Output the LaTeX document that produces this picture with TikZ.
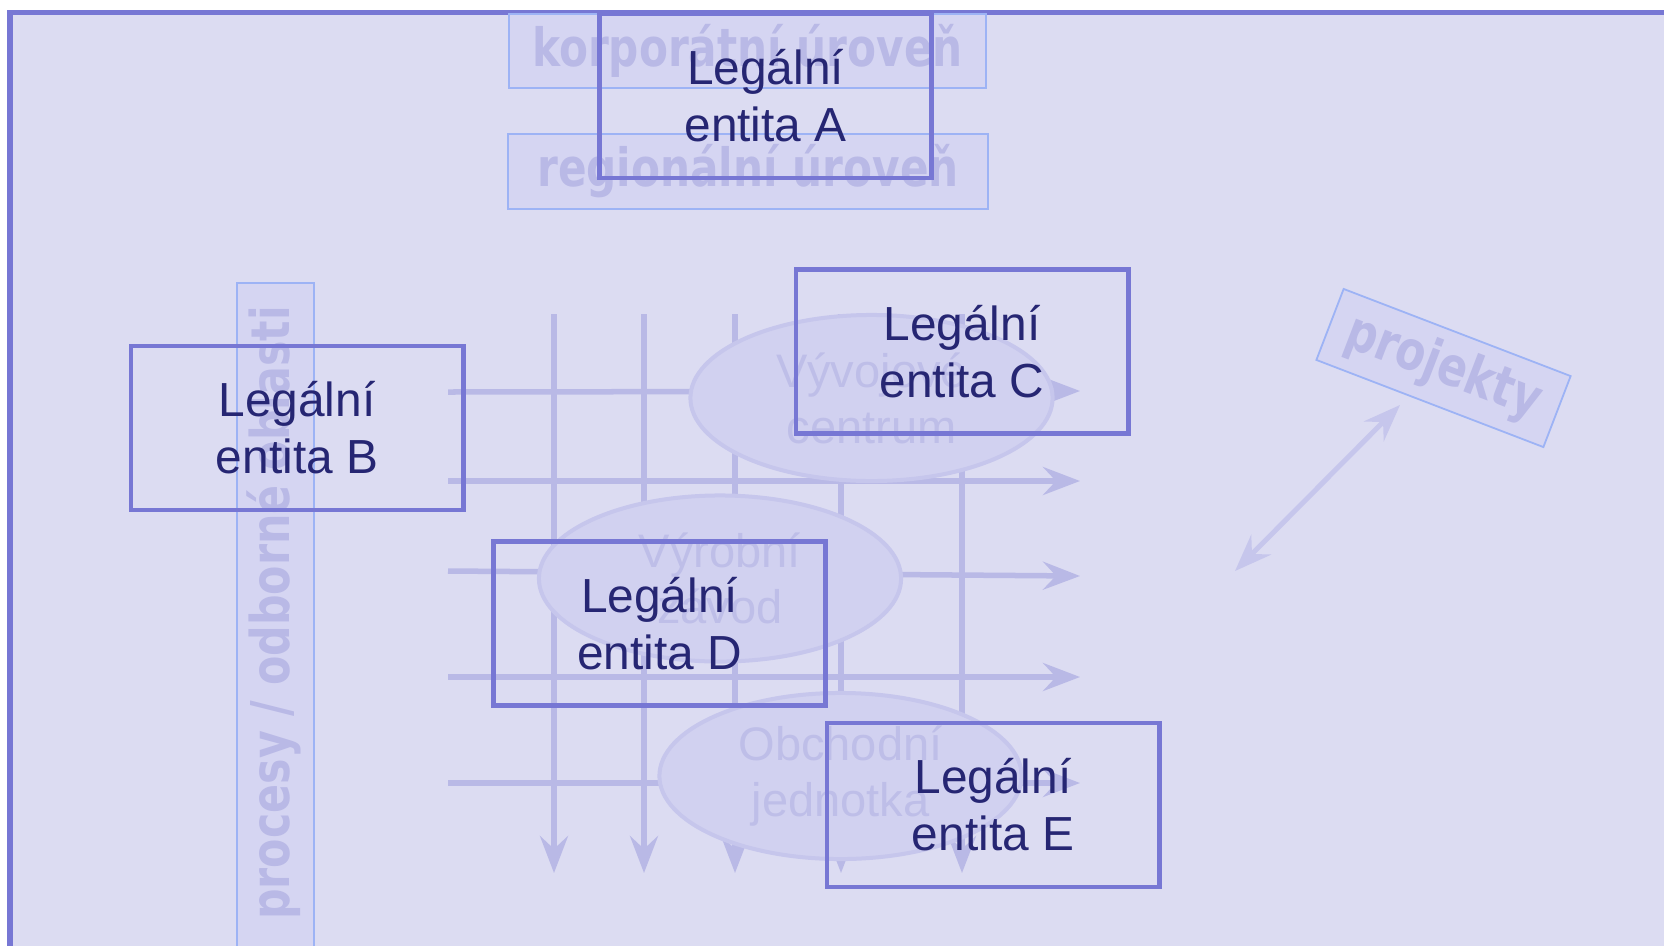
\documentclass[tikz,border=0pt]{standalone}
\usepackage{fontspec}
\setmainfont{Liberation Sans}
\newfontfamily\wmfont[FakeStretch=0.8]{DejaVu Sans}
\usetikzlibrary{arrows.meta,shapes.geometric}

\definecolor{pagebg}{RGB}{220,220,242}
\definecolor{framec}{RGB}{119,119,212}
\definecolor{navy}{RGB}{38,38,115}
\definecolor{wmfill}{RGB}{213,213,242}
\definecolor{wmline}{RGB}{157,179,245}
\definecolor{wmtext}{RGB}{185,185,230}
\definecolor{gridc}{RGB}{185,185,230}
\definecolor{ellfill}{RGB}{209,209,240}
\definecolor{elledge}{RGB}{198,198,236}
\definecolor{elltext}{RGB}{190,190,232}
\definecolor{linkc}{RGB}{198,198,236}

\tikzset{flowtip/.tip={Stealth[length=3.7mm,width=2.8mm,inset=1.3mm]}}

\begin{document}
\begin{tikzpicture}[x=0.01cm,y=-0.01cm,
  entity/.style={draw=framec,line width=0.48mm,minimum width=3.32cm,minimum height=1.64cm,
    inner sep=0pt,align=center,text=navy,font=\fontsize{13.6}{16.22}\selectfont},
  wmbox/.style={draw=wmline,fill=wmfill,line width=0.18mm,inner sep=0pt,text=wmtext,
    font=\wmfont\bfseries\fontsize{15}{18}\selectfont},
  wmlabel/.style={inner sep=0pt,text=wmtext,font=\wmfont\bfseries\fontsize{15.2}{18}\selectfont},
  unit/.style={ellipse,draw=elledge,fill=ellfill,line width=0.4mm,minimum width=3.62cm,
    minimum height=1.66cm,inner sep=0pt,align=center,text=elltext,
    font=\fontsize{13.37}{15.93}\selectfont},
  flow/.style={draw=gridc,line width=0.55mm,-flowtip},
  link/.style={draw=linkc,line width=0.5mm,flowtip-flowtip}
]
\useasboundingbox (0,0) rectangle (1664,945);
\clip (0,0) rectangle (1664,945);

% page and frame
\fill[white] (0,0) rectangle (1664,945);
\fill[pagebg] (10,12) rectangle (1700,1000);
\draw[framec,line width=0.5mm] (10,1000) -- (10,12) -- (1700,12);

% level / area labels
\node[wmbox,minimum width=4.77cm,minimum height=0.74cm] (corp) at (747.5,51) {korporátní úroveň};
\node[wmbox,minimum width=4.80cm,minimum height=0.75cm] (reg) at (748,171.5) {regionální úroveň};
\node[wmbox,minimum width=0.77cm,minimum height=7.17cm] (procbox) at (275.5,641.5) {};
\node[wmlabel,rotate=90] (proclabel) at (274,613) {procesy / odborné oblasti};
\node[wmbox,minimum width=2.43cm,minimum height=0.76cm,rotate=-21,
  font=\wmfont\bfseries\fontsize{15.4}{18}\selectfont] (proj) at (1443.5,368) {projekty};

% process grid
\foreach \x [count=\i] in {554,644,735,841,962} {
  \coordinate (vs\i) at (\x,314);
  \coordinate (ve\i) at (\x,873);
  \draw[flow] (vs\i) -- (ve\i);
}
\foreach \ya/\yb [count=\i] in {392/391,481/481,571/576,677/677,783/783} {
  \coordinate (hs\i) at (448,\ya);
  \coordinate (he\i) at (1080,\yb);
  \draw[flow] (hs\i) -- (he\i);
}

% organisational units
\node[unit] (dev) at (871.5,398) {Vývojové\\centrum};
\node[unit] (prod) at (720,578.5) {Výrobní\\závod};
\node[unit] (sales) at (840.5,776) {Obchodní\\jednotka};

% project link
\coordinate (pl1) at (1235,571);
\coordinate (pl2) at (1400,405);
\draw[link] (pl1) -- (pl2);

% legal entities
\node[entity] (entA) at (765.5,96) {Legální\\entita A};
\node[entity] (entB) at (297,428) {Legální\\entita B};
\node[entity] (entC) at (962,351.5) {Legální\\entita C};
\node[entity] (entD) at (659.5,623.5) {Legální\\entita D};
\node[entity] (entE) at (993,805) {Legální\\entita E};
\end{tikzpicture}
\end{document}
